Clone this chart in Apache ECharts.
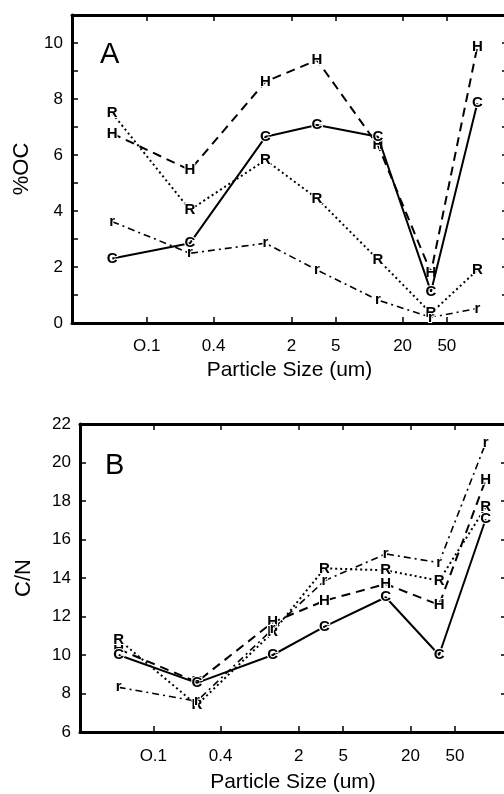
<!DOCTYPE html>
<html>
<head>
<meta charset="utf-8">
<script src="https://cdn.jsdelivr.net/npm/echarts@6/dist/echarts.min.js"></script>
<style>
html,body{margin:0;padding:0;background:#fff;}
#chart{width:504px;height:794px;}
</style>
</head>
<body>
<div id="chart"></div>
<script>
// Particle size classes (um)
const sizes = [0.049, 0.245, 1.17, 3.4, 12, 36, 94];
// x tick positions and labels
const tickSizes = [0.1, 0.4, 2, 5, 20, 50];
const tickLabels = ['O.1', '0.4', '2', '5', '20', '50'];
// Panel A: %OC
const ocC = [2.3, 2.85, 6.65, 7.07, 6.65, 1.12, 7.85];
const ocH = [6.77, 5.46, 8.62, 9.39, 6.35, 1.8, 9.87];
const ocR = [7.49, 4.04, 5.82, 4.45, 2.27, 0.35, 1.89];
const ocr = [3.62, 2.49, 2.85, 1.89, 0.82, 0.2, 0.52];
// Panel B: C/N
const cnC = [10.0, 8.55, 10.0, 11.47, 13.0, 10.0, 17.05];
const cnH = [10.3, 8.6, 11.7, 12.82, 13.69, 12.6, 19.1];
const cnR = [10.8, 7.4, 11.18, 14.5, 14.4, 13.86, 17.67];
const cnr = [8.32, 7.6, 11.35, 13.86, 15.25, 14.8, 21.0];

const FONT = "'Liberation Sans', Arial, sans-serif";
const lg = v => Math.log10(v);
const tickPos = tickSizes.map(lg);
function fmtX(v) {
  let best = 0, bd = Infinity;
  tickPos.forEach((p, i) => { const d = Math.abs(p - v); if (d < bd) { bd = d; best = i; } });
  return tickLabels[best];
}
const pairs = vals => vals.map((v, i) => [lg(sizes[i]), v]);

const styles = {
  C: { type: 'solid', width: 2 },
  H: { type: [9, 6], width: 2 },
  R: { type: [2, 3], width: 2 },
  r: { type: [7, 4, 2, 4], width: 1.6 }
};

function mkSeries(letter, vals, gi) {
  return {
    type: 'line',
    xAxisIndex: gi * 2, yAxisIndex: gi * 2,
    data: pairs(vals),
    symbol: 'circle', symbolSize: 12,
    itemStyle: { color: 'rgba(0,0,0,0)' },
    lineStyle: Object.assign({ color: '#000' }, styles[letter]),
    label: {
      show: true, position: 'inside', formatter: letter,
      color: '#000', fontFamily: FONT, fontWeight: 'bold', fontSize: 15,
      textBorderColor: '#fff', textBorderWidth: 2
    },
    emphasis: { disabled: true },
    animation: false, silent: true, z: letter === 'C' ? 5 : 3
  };
}

function xAxes(gi, min, max, name, labelMargin, nameGap) {
  return [
    {
      gridIndex: gi, type: 'value', position: 'bottom', min: min, max: max,
      axisLine: { show: true, onZero: false, lineStyle: { color: '#000', width: 3 } },
      axisTick: { show: true, inside: true, length: 6, customValues: tickPos, lineStyle: { color: '#000', width: 1.5 } },
      axisLabel: { show: true, customValues: tickPos, formatter: fmtX, margin: labelMargin, color: '#000', fontFamily: FONT, fontSize: 17 },
      splitLine: { show: false },
      name: name, nameLocation: 'middle', nameGap: nameGap,
      nameTextStyle: { color: '#000', fontFamily: FONT, fontSize: 21 }
    },
    {
      gridIndex: gi, type: 'value', position: 'top', min: min, max: max,
      axisLine: { show: true, onZero: false, lineStyle: { color: '#000', width: 3 } },
      axisTick: { show: true, inside: true, length: 6, customValues: tickPos, lineStyle: { color: '#000', width: 1.5 } },
      axisLabel: { show: false },
      splitLine: { show: false }
    }
  ];
}

function yAxes(gi, min, max, interval, name, nameGap, labelEvery) {
  return [
    {
      gridIndex: gi, type: 'value', position: 'left', min: min, max: max, interval: interval,
      axisLine: { show: true, onZero: false, lineStyle: { color: '#000', width: 3 } },
      axisTick: { show: true, inside: true, length: 6, lineStyle: { color: '#000', width: 1.5 } },
      axisLabel: {
        show: true, margin: 9, color: '#000', fontFamily: FONT, fontSize: 17,
        formatter: v => (Math.round(v - min) % labelEvery === 0 && v <= max - (max - min) % labelEvery) ? String(v) : ''
      },
      splitLine: { show: false },
      name: name, nameLocation: 'middle', nameGap: nameGap, nameRotate: 90,
      nameTextStyle: { color: '#000', fontFamily: FONT, fontSize: 22 }
    },
    {
      gridIndex: gi, type: 'value', position: 'right', min: min, max: max, interval: interval,
      axisLine: { show: true, onZero: false, lineStyle: { color: '#000', width: 3 } },
      axisTick: { show: true, inside: true, length: 5, lineStyle: { color: '#000', width: 1.5 } },
      axisLabel: { show: false },
      splitLine: { show: false }
    }
  ];
}

const chart = echarts.init(document.getElementById('chart'), null, { renderer: 'canvas' });
chart.setOption({
  animation: false,
  backgroundColor: '#fff',
  grid: [
    { left: 72, top: 15, width: 435, height: 308, outerBoundsMode: 'none', containLabel: false },
    { left: 80, top: 424, width: 426, height: 308, outerBoundsMode: 'none', containLabel: false }
  ],
  xAxis: [].concat(
    xAxes(0, -1.672, 2.24, 'Particle Size (um)', 15, 37),
    xAxes(1, -1.656, 2.155, 'Particle Size (um)', 16, 40)
  ),
  yAxis: [].concat(
    yAxes(0, 0, 11, 1, '%OC', 38, 2),
    yAxes(1, 6, 22, 2, 'C/N', 45, 2)
  ),
  graphic: [
    { type: 'text', left: 100, top: 40, style: { text: 'A', font: "29px 'Liberation Sans', Arial, sans-serif", fill: '#000' } },
    { type: 'text', left: 105, top: 451, style: { text: 'B', font: "29px 'Liberation Sans', Arial, sans-serif", fill: '#000' } }
  ],
  series: [
    mkSeries('H', ocH, 0), mkSeries('R', ocR, 0), mkSeries('r', ocr, 0), mkSeries('C', ocC, 0),
    mkSeries('H', cnH, 1), mkSeries('R', cnR, 1), mkSeries('r', cnr, 1), mkSeries('C', cnC, 1)
  ]
});
</script>
</body>
</html>
